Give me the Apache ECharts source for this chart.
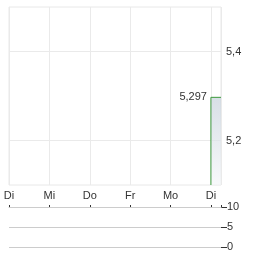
<!DOCTYPE html>
<html><head><meta charset="utf-8">
<script src="https://cdn.jsdelivr.net/npm/echarts@6/dist/echarts.min.js"></script>
<style>html,body{margin:0;padding:0;background:#fff}#c{width:264px;height:255px}</style>
</head><body><div id="c"></div>
<script>
const dayLabels = ['Di','Mi','Do','Fr','Mo','Di'];
const priceX = [5, 5, 5.25];
const priceY = [5.1, 5.297, 5.297];
const lastPriceLabel = '5,297';
const volumeX = [5];
const volumeY = [0];
const priceTicks = [5.2, 5.4];
const volumeTicks = [0, 5, 10];

const font = 'Liberation Sans, Arial, sans-serif';
const chart = echarts.init(document.getElementById('c'), null, {renderer:'canvas'});
const priceData = priceX.map((x,i)=>[x, priceY[i]]);
chart.setOption({
  animation:false,
  grid:[
    {left:9, top:7, right:43, bottom:70, show:true, borderColor:'#e8e8e8', borderWidth:1},
    {left:9, top:207, right:43, bottom:8}
  ],
  xAxis:[
    {type:'value', gridIndex:0, min:0, max:5.25, interval:1,
     axisLine:{show:false}, axisTick:{show:false},
     splitLine:{show:true, lineStyle:{color:'#eaeaea', width:1, type:'solid'}},
     axisLabel:{show:true, margin:5, color:'#333', fontSize:11, fontFamily:font,
       formatter:v=> (Number.isInteger(v) && dayLabels[v]!==undefined) ? dayLabels[v] : ''}},
    {type:'value', gridIndex:1, min:0, max:5.25, interval:1, position:'top',
     axisLine:{show:true, onZero:false, lineStyle:{color:'#cccccc', type:'solid'}},
     axisTick:{show:true, length:2, lineStyle:{color:'#333'}},
     splitLine:{show:false}, axisLabel:{show:false}}
  ],
  yAxis:[
    {type:'value', gridIndex:0, position:'right', min:5.1, max:5.5,
     axisLine:{show:false},
     axisTick:{show:false, customValues:priceTicks},
     splitLine:{show:true, lineStyle:{color:'#eaeaea', type:'solid'}},
     axisLabel:{show:true, margin:5, color:'#333', fontSize:11, fontFamily:font,
       customValues:priceTicks,
       formatter:v=>v.toFixed(1).replace('.',',')}},
    {type:'value', gridIndex:1, position:'right', min:0, max:10, interval:5,
     axisLine:{show:false},
     axisTick:{show:false},
     splitLine:{show:true, lineStyle:{color:'#cccccc', type:'solid'}},
     axisLabel:{show:true, margin:6, color:'#333', fontSize:11, fontFamily:font}}
  ],
  series:[
    {type:'line', xAxisIndex:0, yAxisIndex:0, data:priceData, symbol:'none',
     lineStyle:{color:'#3d9a3d', width:1},
     areaStyle:{origin:'start', color:new echarts.graphic.LinearGradient(0,0,0,1,[
       {offset:0,color:'#c6d1db'},{offset:1,color:'#f4f6f8'}])},
     markPoint:{symbol:'circle', symbolSize:0,
       data:[{coord:priceData[1], value:lastPriceLabel}],
       label:{show:true, position:'left', distance:4, color:'#333', fontSize:11, fontFamily:font,
         formatter:lastPriceLabel}}
    },
    {type:'bar', xAxisIndex:1, yAxisIndex:1, data:volumeX.map((x,i)=>[x,volumeY[i]]),
     barWidth:4, itemStyle:{color:'#888'}}
  ]
});
// right-side tick dashes for the volume axis, placed through the axis scales
const dashes = volumeTicks.map(v => {
  const p = chart.convertToPixel({xAxisIndex:1, yAxisIndex:1}, [5.25, v]);
  return {type:'line', silent:true,
    shape:{x1:p[0], y1:Math.round(p[1])+0.5, x2:p[0]+6, y2:Math.round(p[1])+0.5},
    style:{stroke:'#333', lineWidth:1}};
});
chart.setOption({graphic:dashes});
</script></body></html>
